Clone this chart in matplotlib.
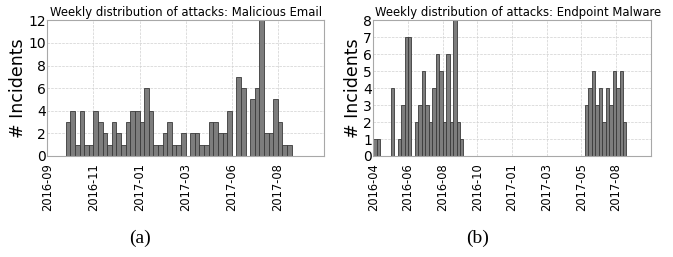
import matplotlib.pyplot as plt

# ---------------------------------------------------- Data ---------------------------------------------------------- #
# weekly counts, index = week number on the x axis
email_start = 4
email_counts = [3, 4, 1, 4, 1, 1, 4, 3, 2, 1, 3, 2, 1, 3, 4, 4, 3, 6, 4, 1, 1, 2, 3, 1, 1, 2, 0, 2, 2, 1, 1, 3,
                3, 2, 2, 4, 0, 7, 6, 0, 5, 6, 12, 2, 2, 5, 3, 1, 1]
email_ticks = ['2016-09', '2016-11', '2017-01', '2017-03', '2017-06', '2017-08']

malware_weeks = list(range(0, 26)) + list(range(61, 73))
malware_counts = [1, 1, 0, 0, 0, 4, 0, 1, 3, 7, 7, 0, 2, 3, 5, 3, 2, 4, 6, 5, 2, 6, 2, 8, 2, 1,
                  3, 4, 5, 3, 4, 2, 4, 3, 5, 4, 5, 2]
malware_ticks = ['2016-04', '2016-06', '2016-08', '2016-10', '2017-01', '2017-03', '2017-05', '2017-08']

email_weeks = list(range(email_start, email_start + len(email_counts)))

# ---------------------------------------------------- Plot ---------------------------------------------------------- #
fig = plt.figure(figsize=(6.73, 2.57), dpi=100)
ax1 = fig.add_axes([0.0703, 0.393, 0.4111, 0.528])
ax2 = fig.add_axes([0.5547, 0.393, 0.4122, 0.528])


def style(ax, weeks, counts, labels, n, ymax, ystep, title, tx):
    ax.bar(weeks, counts, width=1.0, align='edge', color='#7d7d7d', edgecolor='#3a3a3a', linewidth=0.6,
           zorder=2)
    ax.set_xlim(0, n)
    ax.set_ylim(0, ymax)
    ax.set_xticks(range(0, n + 1, 10))
    ax.set_xticklabels(labels + [''], rotation=90, fontsize=8.3)
    ax.set_yticks(range(0, ymax + 1, ystep))
    ax.tick_params(axis='y', labelsize=10, length=0, pad=1)
    ax.tick_params(axis='x', length=0, pad=5)
    ax.grid(True, linestyle='--', color='#d0d0d0', linewidth=0.5, zorder=0)
    for s in ax.spines.values():
        s.set_color('#a8a8a8')
    ax.set_ylabel('# Incidents', fontsize=12.5, labelpad=1)
    ax.set_title(title, fontsize=8.4, pad=3, x=tx)


style(ax1, email_weeks, email_counts, email_ticks, 60, 12, 2, 'Weekly distribution of attacks: Malicious Email', 0.5)
style(ax2, malware_weeks, malware_counts, malware_ticks, 80, 8, 1,
      'Weekly distribution of attacks: Endpoint Malware', 0.52)

fig.text(0.208, 0.055, '(a)', fontsize=14, family='Liberation Serif', ha='center')
fig.text(0.709, 0.055, '(b)', fontsize=14, family='Liberation Serif', ha='center')

plt.savefig('out.png', dpi=100)
